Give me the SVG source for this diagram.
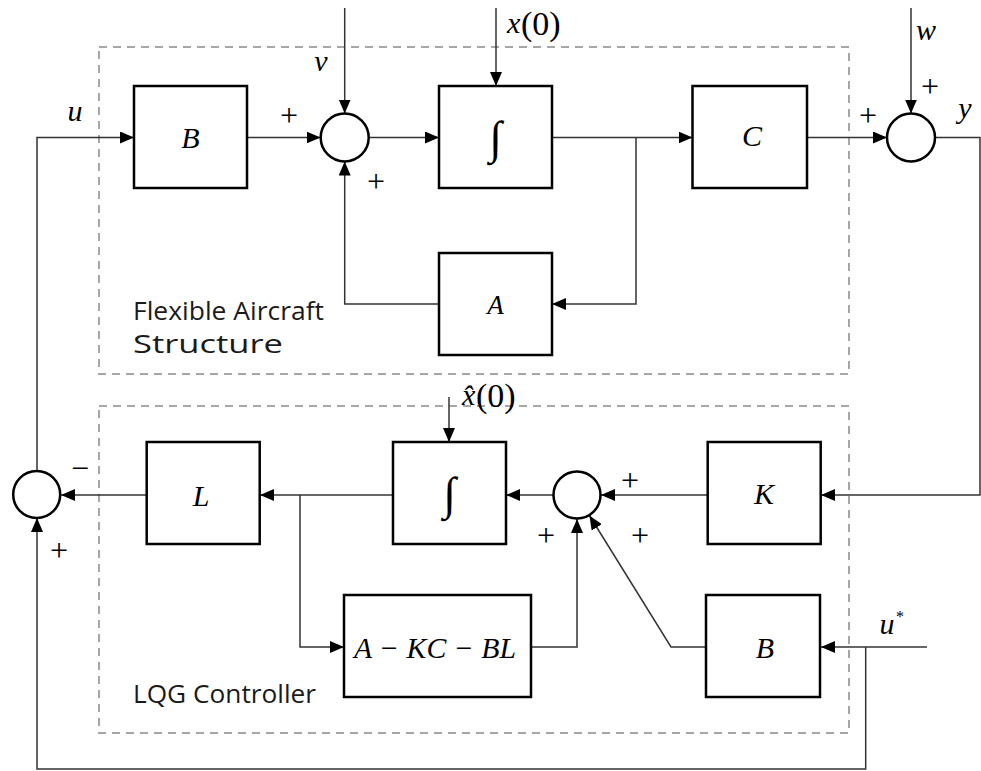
<svg xmlns="http://www.w3.org/2000/svg" width="981" height="771" viewBox="0 0 981 771">
<style>
.blk{fill:#fff;stroke:#000;stroke-width:2.5}
.sum{fill:#fff;stroke:#000;stroke-width:2.5}
.dash{fill:none;stroke:#a6a6a6;stroke-width:2;stroke-dasharray:8,6}
.c{fill:none;stroke:#333;stroke-width:1.5}
.m{font-family:"Liberation Serif",serif;font-style:italic;font-size:30px;fill:#000}
.n{font-family:"Liberation Serif",serif;font-size:32px;fill:#000}
.p{font-family:"Liberation Serif",serif;font-size:34px;fill:#000}
.int{font-family:"Liberation Serif",serif;font-size:46px;fill:#000}
.lab{font-family:"Open Sans","Liberation Sans",sans-serif;font-size:25px;fill:#1a1a1a}
</style>
<defs>
<marker id="ar" markerUnits="userSpaceOnUse" markerWidth="15" markerHeight="13" refX="14" refY="6" orient="auto">
<path d="M0,0 L14,6 L0,12 z" fill="#000"/>
</marker>
</defs>
<g id="frames">
<rect class="dash" x="99" y="47" width="750" height="327"/>
<rect class="dash" x="99" y="406" width="750" height="327"/>
<text class="lab" x="133" y="320" textLength="191" lengthAdjust="spacingAndGlyphs">Flexible Aircraft</text>
<text class="lab" x="133" y="353" textLength="150" lengthAdjust="spacingAndGlyphs">Structure</text>
<text class="lab" x="133" y="703" textLength="183" lengthAdjust="spacingAndGlyphs">LQG Controller</text>
</g>
<g id="connectors">
<path class="c" d="M37,470.5 V137.5 H134" marker-end="url(#ar)"/>
<path class="c" d="M247,137.5 H320.5" marker-end="url(#ar)"/>
<path class="c" d="M368.5,137.5 H439" marker-end="url(#ar)"/>
<path class="c" d="M552,137.5 H692.5" marker-end="url(#ar)"/>
<path class="c" d="M807,137.5 H887" marker-end="url(#ar)"/>
<path class="c" d="M344.7,8 V113.5" marker-end="url(#ar)"/>
<path class="c" d="M496,8 V86" marker-end="url(#ar)"/>
<path class="c" d="M911,8 V113.5" marker-end="url(#ar)"/>
<path class="c" d="M636,137.5 V304 H552" marker-end="url(#ar)"/>
<path class="c" d="M439,304 H344.7 V161.5" marker-end="url(#ar)"/>
<path class="c" d="M935,137.5 H980 V495 H821" marker-end="url(#ar)"/>
<path class="c" d="M707.7,495 H601" marker-end="url(#ar)"/>
<path class="c" d="M553.5,495 H506" marker-end="url(#ar)"/>
<path class="c" d="M393,495 H260" marker-end="url(#ar)"/>
<path class="c" d="M146.7,495 H61" marker-end="url(#ar)"/>
<path class="c" d="M449,397 V442" marker-end="url(#ar)"/>
<path class="c" d="M300,495 V647 H344" marker-end="url(#ar)"/>
<path class="c" d="M531,647 H577 V519" marker-end="url(#ar)"/>
<path class="c" d="M706,647 H671 L589.4,515.5" marker-end="url(#ar)"/>
<path class="c" d="M927,647 H821" marker-end="url(#ar)"/>
<path class="c" d="M865.7,647 V769 H37 V518" marker-end="url(#ar)"/>
</g>
<g id="B1"><rect class="blk" x="134" y="86" width="113" height="102"/><text class="m" x="190.5" y="148" text-anchor="middle">B</text></g>
<g id="sum1"><circle class="sum" cx="344.7" cy="137.5" r="24"/></g>
<g id="int1"><rect class="blk" x="439" y="86" width="113" height="102"/><text class="int" x="495.5" y="153" text-anchor="middle">∫</text></g>
<g id="C"><rect class="blk" x="692.5" y="86" width="114.5" height="102"/><text class="m" x="752" y="146" text-anchor="middle">C</text></g>
<g id="sum2"><circle class="sum" cx="911" cy="137.5" r="24"/></g>
<g id="A"><rect class="blk" x="439" y="253" width="113" height="102"/><text class="m" x="495.5" y="314" text-anchor="middle" style="font-size:27px">A</text></g>
<g id="K"><rect class="blk" x="707.7" y="442" width="113" height="102"/><text class="m" x="764" y="504" text-anchor="middle">K</text></g>
<g id="sum3"><circle class="sum" cx="577" cy="495" r="23.5"/></g>
<g id="int2"><rect class="blk" x="393" y="442" width="113" height="102"/><text class="int" x="449.5" y="509" text-anchor="middle">∫</text></g>
<g id="L"><rect class="blk" x="146.7" y="442" width="113" height="102"/><text class="m" x="201" y="506" text-anchor="middle">L</text></g>
<g id="sum4"><circle class="sum" cx="36.7" cy="494.5" r="23.5"/></g>
<g id="AKCBL"><rect class="blk" x="344" y="595" width="187" height="102"/><text class="m" x="354" y="658" textLength="162" lengthAdjust="spacingAndGlyphs">A − KC − BL</text></g>
<g id="B2"><rect class="blk" x="706" y="595" width="114" height="102"/><text class="m" x="765" y="658" text-anchor="middle">B</text></g>
<g id="labels">
<text class="m" x="75" y="121" text-anchor="middle">u</text>
<text class="m" x="321" y="71" text-anchor="middle">v</text>
<text class="m" x="507" y="33">x</text><text class="p" x="521" y="35">(0)</text>
<text class="m" x="926" y="40" text-anchor="middle">w</text>
<text class="m" x="965" y="118" text-anchor="middle">y</text>
<text class="m" x="462" y="405">x̂</text><text class="p" x="476" y="407">(0)</text>
<text class="m" x="887" y="634" text-anchor="middle">u</text><text class="n" x="900" y="622" text-anchor="middle" style="font-size:16px">*</text>
<text class="n" x="289" y="126" text-anchor="middle">+</text>
<text class="n" x="376" y="192" text-anchor="middle">+</text>
<text class="n" x="868" y="126" text-anchor="middle">+</text>
<text class="n" x="930" y="97" text-anchor="middle">+</text>
<text class="n" x="630" y="491" text-anchor="middle">+</text>
<text class="n" x="546" y="546" text-anchor="middle">+</text>
<text class="n" x="640" y="546" text-anchor="middle">+</text>
<text class="n" x="59" y="561" text-anchor="middle">+</text>
<text class="n" x="80" y="479" text-anchor="middle">−</text>
</g>
</svg>
